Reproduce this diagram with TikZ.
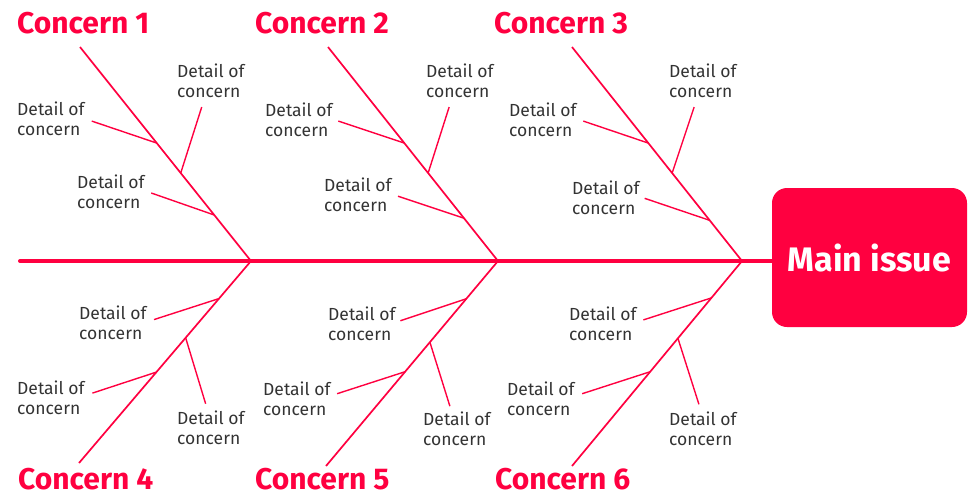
\documentclass[tikz,border=0pt]{standalone}
\usepackage{fontspec}
\setmainfont{Fira Sans}
\usetikzlibrary{calc}
\definecolor{fishred}{RGB}{255,0,64}
\definecolor{txtgray}{RGB}{51,51,51}
\begin{document}
\begin{tikzpicture}[x=1pt,y=-1pt,
  spine/.style={draw=fishred,line width=4pt,line cap=round},
  bone/.style={draw=fishred,line width=1.7pt},
  twig/.style={draw=fishred,line width=1.4pt},
  concern/.style={text=fishred,font=\fontsize{30}{30}\selectfont\bfseries,inner sep=0pt,anchor=north west},
  detail/.style={text=txtgray,font=\fontsize{17.5}{20}\selectfont,align=left,inner sep=0pt,anchor=north west},
  mainbox/.style={fill=fishred,rounded corners=15pt,minimum width=195pt,minimum height=139pt,text=white,font=\fontsize{34}{34}\selectfont\bfseries,inner sep=0pt}]
\useasboundingbox (0,0) rectangle (969,496);

% main issue and spine
\node[mainbox] (main) at (869.5,257.5) {Main issue};
\coordinate (tail) at (20,261);
\draw[spine] (tail) -- (tail -| main.west);
\coordinate (j1) at (251,261);
\coordinate (j2) at (498,261);
\coordinate (j3) at (742,261);

% ---------- Concern 1 ----------
\node[concern] (c1) at (17,12) {Concern 1};
\coordinate (e1) at (80,47);
\draw[bone] (e1) -- (j1);
\coordinate (p1a) at ($(e1)!0.449!(j1)$);
\coordinate (p1b) at ($(e1)!0.589!(j1)$);
\coordinate (p1c) at ($(e1)!0.785!(j1)$);
\coordinate (q1a) at ($(p1a)+(-65,-22)$);
\coordinate (q1b) at ($(p1b)+(21,-66)$);
\coordinate (q1c) at ($(p1c)+(-63,-22)$);
\draw[twig] (q1a) -- (p1a);
\draw[twig] (q1b) -- (p1b);
\draw[twig] (q1c) -- (p1c);
\node[detail] (d1a) at (17,102) {Detail of\\concern};
\node[detail] (d1b) at (177,64) {Detail of\\concern};
\node[detail] (d1c) at (77,175) {Detail of\\concern};

% ---------- Concern 2 ----------
\node[concern] (c2) at (255,12) {Concern 2};
\coordinate (e2) at (328,47);
\draw[bone] (e2) -- (j2);
\coordinate (p2a) at ($(e2)!0.449!(j2)$);
\coordinate (p2b) at ($(e2)!0.589!(j2)$);
\coordinate (p2c) at ($(e2)!0.80!(j2)$);
\coordinate (q2a) at ($(p2a)+(-66,-22)$);
\coordinate (q2b) at ($(p2b)+(21,-66)$);
\coordinate (q2c) at ($(p2c)+(-66,-22)$);
\draw[twig] (q2a) -- (p2a);
\draw[twig] (q2b) -- (p2b);
\draw[twig] (q2c) -- (p2c);
\node[detail] (d2a) at (265,103) {Detail of\\concern};
\node[detail] (d2b) at (426,64) {Detail of\\concern};
\node[detail] (d2c) at (324,178) {Detail of\\concern};

% ---------- Concern 3 ----------
\node[concern] (c3) at (494,12) {Concern 3};
\coordinate (e3) at (572,47);
\draw[bone] (e3) -- (j3);
\coordinate (p3a) at ($(e3)!0.449!(j3)$);
\coordinate (p3b) at ($(e3)!0.589!(j3)$);
\coordinate (p3c) at ($(e3)!0.81!(j3)$);
\coordinate (q3a) at ($(p3a)+(-65,-22)$);
\coordinate (q3b) at ($(p3b)+(22,-66)$);
\coordinate (q3c) at ($(p3c)+(-65,-22)$);
\draw[twig] (q3a) -- (p3a);
\draw[twig] (q3b) -- (p3b);
\draw[twig] (q3c) -- (p3c);
\node[detail] (d3a) at (509,103) {Detail of\\concern};
\node[detail] (d3b) at (669,64) {Detail of\\concern};
\node[detail] (d3c) at (572,181) {Detail of\\concern};

% ---------- Concern 4 ----------
\node[concern] (c4) at (18,468) {Concern 4};
\coordinate (e4) at (79,463);
\draw[bone] (e4) -- (j1);
\coordinate (p4a) at ($(j1)!0.186!(e4)$);
\coordinate (p4b) at ($(j1)!0.38!(e4)$);
\coordinate (p4c) at ($(j1)!0.55!(e4)$);
\coordinate (q4a) at ($(p4a)+(-65,21)$);
\coordinate (q4b) at ($(p4b)+(20,66)$);
\coordinate (q4c) at ($(p4c)+(-64,21)$);
\draw[twig] (q4a) -- (p4a);
\draw[twig] (q4b) -- (p4b);
\draw[twig] (q4c) -- (p4c);
\node[detail] (d4a) at (79,306) {Detail of\\concern};
\node[detail] (d4b) at (177,411) {Detail of\\concern};
\node[detail] (d4c) at (17,381) {Detail of\\concern};

% ---------- Concern 5 ----------
\node[concern] (c5) at (255,468) {Concern 5};
\coordinate (e5) at (326,466);
\draw[bone] (e5) -- (j2);
\coordinate (p5a) at ($(j2)!0.184!(e5)$);
\coordinate (p5b) at ($(j2)!0.396!(e5)$);
\coordinate (p5c) at ($(j2)!0.54!(e5)$);
\coordinate (q5a) at ($(p5a)+(-66,22)$);
\coordinate (q5b) at ($(p5b)+(20,64)$);
\coordinate (q5c) at ($(p5c)+(-68,22)$);
\draw[twig] (q5a) -- (p5a);
\draw[twig] (q5b) -- (p5b);
\draw[twig] (q5c) -- (p5c);
\node[detail] (d5a) at (328,307) {Detail of\\concern};
\node[detail] (d5b) at (423,412) {Detail of\\concern};
\node[detail] (d5c) at (263,382) {Detail of\\concern};

% ---------- Concern 6 ----------
\node[concern] (c6) at (495,468) {Concern 6};
\coordinate (e6) at (572,466);
\draw[bone] (e6) -- (j3);
\coordinate (p6a) at ($(j3)!0.18!(e6)$);
\coordinate (p6b) at ($(j3)!0.377!(e6)$);
\coordinate (p6c) at ($(j3)!0.54!(e6)$);
\coordinate (q6a) at ($(p6a)+(-68,22)$);
\coordinate (q6b) at ($(p6b)+(21,66)$);
\coordinate (q6c) at ($(p6c)+(-68,22)$);
\draw[twig] (q6a) -- (p6a);
\draw[twig] (q6b) -- (p6b);
\draw[twig] (q6c) -- (p6c);
\node[detail] (d6a) at (569,307) {Detail of\\concern};
\node[detail] (d6b) at (669,412) {Detail of\\concern};
\node[detail] (d6c) at (507,382) {Detail of\\concern};
\end{tikzpicture}
\end{document}
